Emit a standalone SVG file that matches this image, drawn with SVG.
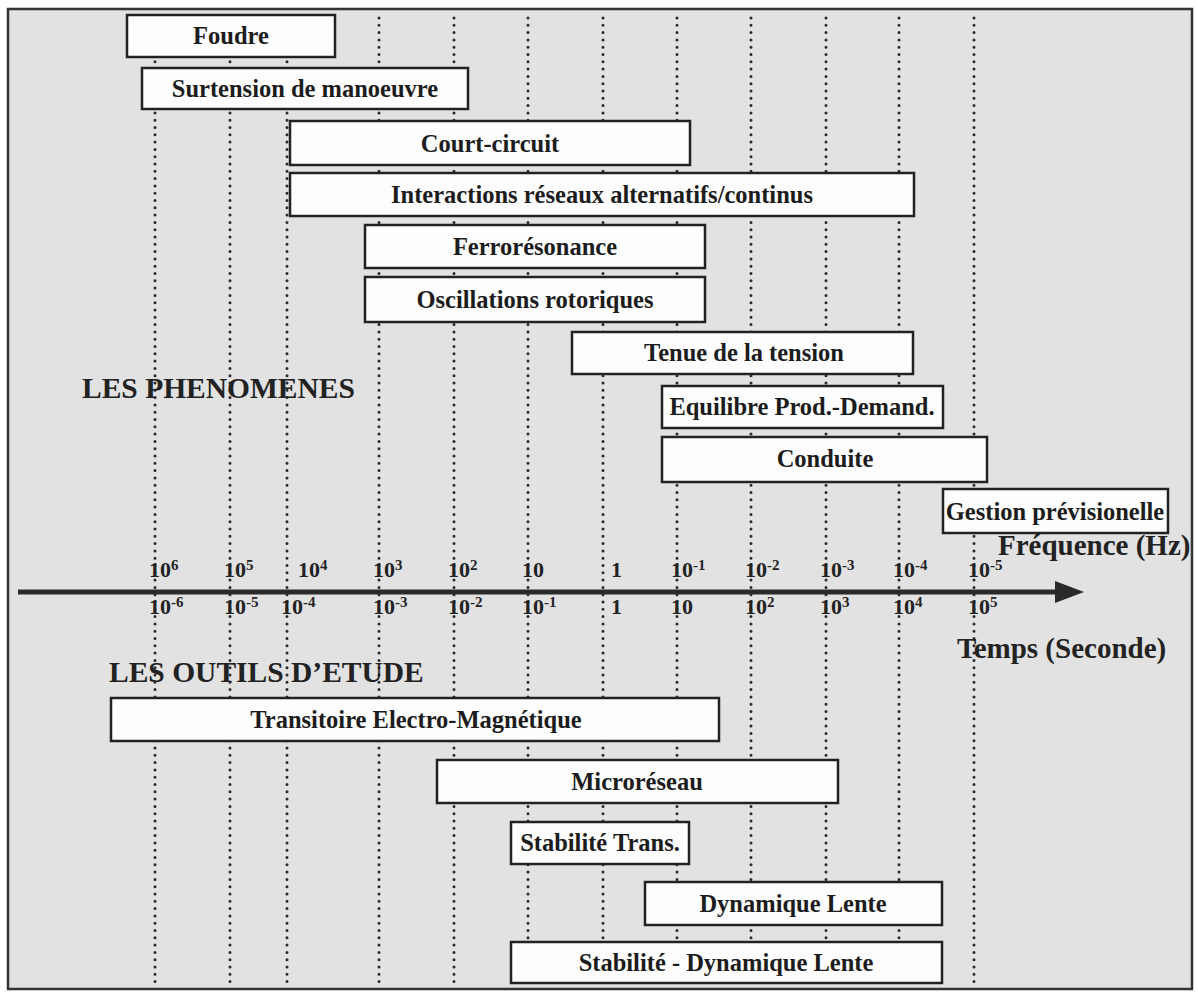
<svg xmlns="http://www.w3.org/2000/svg" width="1198" height="992" viewBox="0 0 1198 992">
<style>
.lbl{font-family:"Liberation Serif","Times New Roman",serif;font-weight:bold;font-size:24.5px;fill:#1c1c1c;text-anchor:middle}
.box{fill:#fdfdfd;stroke:#222;stroke-width:2.5}
.grid{stroke:#2a2a2a;stroke-width:3;stroke-dasharray:0 7.3;stroke-linecap:round}
.tick{font-family:"Liberation Serif","Times New Roman",serif;font-weight:bold;font-size:22px;fill:#222}
.sup{font-size:15px}
.title{font-family:"Liberation Serif","Times New Roman",serif;font-weight:bold;font-size:29.5px;fill:#222}
.axlbl{font-family:"Liberation Serif","Times New Roman",serif;font-weight:bold;font-size:29px;fill:#222}
</style>
<rect x="0" y="0" width="1198" height="992" fill="#ffffff"/>
<rect id="frame" x="8" y="9" width="1184" height="980" fill="#e2e2e2" stroke="#333" stroke-width="2.5"/>

<g id="grid-lines">
<line class="grid" x1="155" y1="18" x2="155" y2="986"/>
<line class="grid" x1="230" y1="18" x2="230" y2="986"/>
<line class="grid" x1="287" y1="18" x2="287" y2="986"/>
<line class="grid" x1="379" y1="18" x2="379" y2="986"/>
<line class="grid" x1="454" y1="18" x2="454" y2="986"/>
<line class="grid" x1="528" y1="18" x2="528" y2="986"/>
<line class="grid" x1="603" y1="18" x2="603" y2="986"/>
<line class="grid" x1="677" y1="18" x2="677" y2="986"/>
<line class="grid" x1="751" y1="18" x2="751" y2="986"/>
<line class="grid" x1="826" y1="18" x2="826" y2="986"/>
<line class="grid" x1="899" y1="18" x2="899" y2="986"/>
<line class="grid" x1="974" y1="18" x2="974" y2="986"/>
</g>

<g id="axis">
<line x1="18" y1="592" x2="1058" y2="592" stroke="#2a2a2a" stroke-width="5"/>
<polygon points="1055,581 1084,592 1055,603" fill="#2a2a2a"/>
</g>

<g id="axis-labels">
<text class="axlbl" x="998" y="555">Fréquence (Hz)</text>
<text class="axlbl" x="957" y="658">Temps (Seconde)</text>
</g>

<g id="freq-ticks" class="tick">
<text x="149" y="577">10<tspan class="sup" dy="-7">6</tspan></text>
<text x="224" y="577">10<tspan class="sup" dy="-7">5</tspan></text>
<text x="298" y="577">10<tspan class="sup" dy="-7">4</tspan></text>
<text x="373" y="577">10<tspan class="sup" dy="-7">3</tspan></text>
<text x="448" y="577">10<tspan class="sup" dy="-7">2</tspan></text>
<text x="522" y="577">10</text>
<text x="611" y="577">1</text>
<text x="671" y="577">10<tspan class="sup" dy="-7">-1</tspan></text>
<text x="745" y="577">10<tspan class="sup" dy="-7">-2</tspan></text>
<text x="820" y="577">10<tspan class="sup" dy="-7">-3</tspan></text>
<text x="893" y="577">10<tspan class="sup" dy="-7">-4</tspan></text>
<text x="968" y="577">10<tspan class="sup" dy="-7">-5</tspan></text>
</g>

<g id="time-ticks" class="tick">
<text x="149" y="614">10<tspan class="sup" dy="-7">-6</tspan></text>
<text x="224" y="614">10<tspan class="sup" dy="-7">-5</tspan></text>
<text x="281" y="614">10<tspan class="sup" dy="-7">-4</tspan></text>
<text x="373" y="614">10<tspan class="sup" dy="-7">-3</tspan></text>
<text x="448" y="614">10<tspan class="sup" dy="-7">-2</tspan></text>
<text x="522" y="614">10<tspan class="sup" dy="-7">-1</tspan></text>
<text x="611" y="614">1</text>
<text x="671" y="614">10</text>
<text x="745" y="614">10<tspan class="sup" dy="-7">2</tspan></text>
<text x="820" y="614">10<tspan class="sup" dy="-7">3</tspan></text>
<text x="893" y="614">10<tspan class="sup" dy="-7">4</tspan></text>
<text x="968" y="614">10<tspan class="sup" dy="-7">5</tspan></text>
</g>

<text id="title-phenomenes" class="title" x="82" y="398">LES PHENOMENES</text>
<text id="title-outils" class="title" x="109" y="682">LES OUTILS D’ETUDE</text>

<g id="foudre"><rect class="box" x="127" y="15" width="208" height="42"/><text class="lbl" x="231" y="44">Foudre</text></g>
<g id="surtension"><rect class="box" x="142" y="68" width="326" height="41"/><text class="lbl" x="305" y="97">Surtension de manoeuvre</text></g>
<g id="court-circuit"><rect class="box" x="290" y="121" width="400" height="44"/><text class="lbl" x="490" y="152">Court-circuit</text></g>
<g id="interactions"><rect class="box" x="290" y="173" width="624" height="43"/><text class="lbl" x="602" y="203">Interactions réseaux alternatifs/continus</text></g>
<g id="ferroresonance"><rect class="box" x="365" y="225" width="340" height="43"/><text class="lbl" x="535" y="255">Ferrorésonance</text></g>
<g id="oscillations"><rect class="box" x="365" y="277" width="340" height="45"/><text class="lbl" x="535" y="308">Oscillations rotoriques</text></g>
<g id="tenue"><rect class="box" x="572" y="332" width="341" height="42"/><text class="lbl" x="744" y="361">Tenue de la tension</text></g>
<g id="equilibre"><rect class="box" x="662" y="386" width="281" height="42"/><text class="lbl" x="802" y="415">Equilibre Prod.-Demand.</text></g>
<g id="conduite"><rect class="box" x="662" y="437" width="325" height="45"/><text class="lbl" x="825" y="467">Conduite</text></g>
<g id="gestion"><rect class="box" x="943" y="489" width="225" height="44"/><text class="lbl" x="1055" y="520">Gestion prévisionelle</text></g>

<g id="transitoire"><rect class="box" x="111" y="698" width="608" height="43"/><text class="lbl" x="416" y="728">Transitoire Electro-Magnétique</text></g>
<g id="microreseau"><rect class="box" x="437" y="760" width="401" height="43"/><text class="lbl" x="637" y="790">Microréseau</text></g>
<g id="stabilite-trans"><rect class="box" x="511" y="822" width="178" height="42"/><text class="lbl" x="600" y="851">Stabilité Trans.</text></g>
<g id="dynamique-lente"><rect class="box" x="645" y="882" width="297" height="43"/><text class="lbl" x="793" y="912">Dynamique Lente</text></g>
<g id="stabilite-dynamique"><rect class="box" x="511" y="942" width="431" height="41"/><text class="lbl" x="726" y="971">Stabilité - Dynamique Lente</text></g>
</svg>
